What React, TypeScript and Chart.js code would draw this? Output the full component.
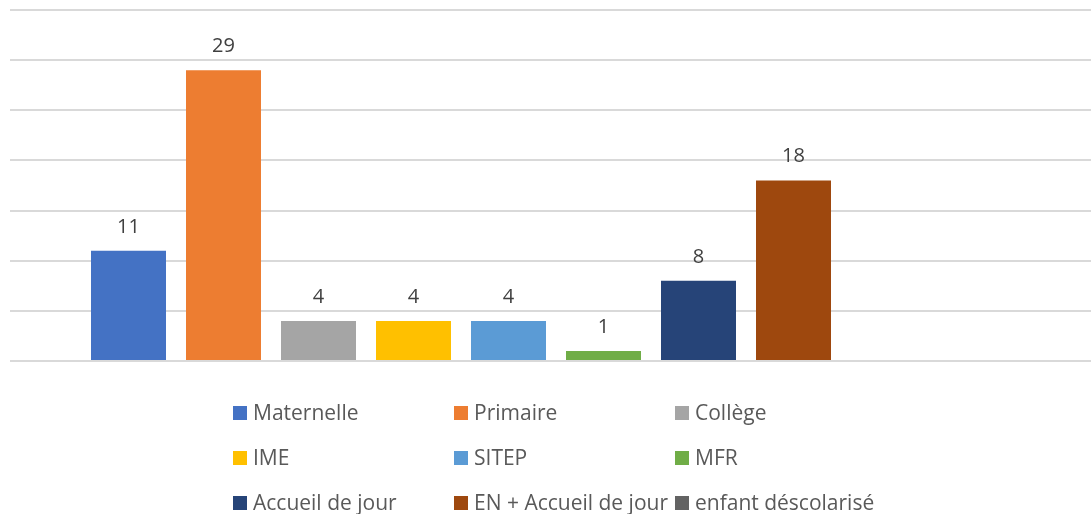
import React, { useEffect, useRef } from "react";
import { Chart, registerables } from "chart.js";

Chart.register(...registerables);

// ---- data ----
const seriesLabels: string[] = [
  "Maternelle",
  "Primaire",
  "Collège",
  "IME",
  "SITEP",
  "MFR",
  "Accueil de jour",
  "EN + Accueil de jour",
  "enfant déscolarisé",
];
const seriesValues: (number | null)[] = [11, 29, 4, 4, 4, 1, 8, 18, null];
const seriesColors: string[] = [
  "#4472C4",
  "#ED7D31",
  "#A5A5A5",
  "#FFC000",
  "#5B9BD5",
  "#70AD47",
  "#264478",
  "#9E480E",
  "#636363",
];
const yMin = 0;
const yMax = 35;
const yStep = 5;

// ---- layout / style ----
const W = 1091;
const H = 514;
const FONT = "'Open Sans', Lato, sans-serif";
const legendColX = [233, 454, 675];
const legendRowTop = [406, 451, 496];
const legendBox = 14;

const valueLabelPlugin = {
  id: "valueLabels",
  afterDatasetsDraw(chart: any) {
    const ctx = chart.ctx;
    ctx.save();
    ctx.font = `20px ${FONT}`;
    ctx.fillStyle = "#404040";
    ctx.textAlign = "center";
    ctx.textBaseline = "alphabetic";
    chart.data.datasets.forEach((ds: any, di: number) => {
      const meta = chart.getDatasetMeta(di);
      meta.data.forEach((el: any, i: number) => {
        const v = ds.data[i]?.y;
        if (v === null || v === undefined) return;
        ctx.fillText(String(v), el.x, el.y - 18);
      });
    });
    ctx.restore();
  },
};

const gridLegendPlugin = {
  id: "gridLegend",
  afterDraw(chart: any) {
    const ctx = chart.ctx;
    ctx.save();
    ctx.font = `21px ${FONT}`;
    ctx.textAlign = "left";
    ctx.textBaseline = "alphabetic";
    chart.data.datasets.forEach((ds: any, di: number) => {
      const col = di % 3;
      const row = Math.floor(di / 3);
      const x = legendColX[col];
      const y = legendRowTop[row];
      ctx.fillStyle = ds.backgroundColor;
      ctx.fillRect(x, y, legendBox, legendBox);
      ctx.fillStyle = "#595959";
      ctx.fillText(ds.label, x + legendBox + 6, y + legendBox);
    });
    ctx.restore();
  },
};

export default function App() {
  const ref = useRef<HTMLCanvasElement | null>(null);

  useEffect(() => {
    if (!ref.current) return;
    const groupCenterFrac = 0.46115;
    const chart = new Chart(ref.current, {
      type: "bar",
      data: {
        datasets: seriesLabels.map((label, i) => ({
          label,
          data: [{ x: 0, y: seriesValues[i] }],
          backgroundColor: seriesColors[i],
          borderWidth: 0,
          categoryPercentage: 855 / 1081,
          barPercentage: 75 / 95,
        })) as any,
      },
      options: {
        responsive: false,
        animation: false,
        devicePixelRatio: 1,
        layout: { padding: { left: 10, right: 0, top: 10, bottom: 153 } },
        plugins: {
          legend: { display: false },
          tooltip: { enabled: false },
          title: { display: false },
        },
        scales: {
          x: {
            type: "linear",
            display: false,
            offset: false,
            min: -groupCenterFrac,
            max: 1 - groupCenterFrac,
            afterBuildTicks: (axis: any) => {
              axis.ticks = [{ value: axis.min }, { value: axis.max }];
            },
            grid: { display: false },
          },
          y: {
            min: yMin,
            max: yMax,
            ticks: { display: false, stepSize: yStep },
            border: { display: false },
            grid: {
              color: "#d9d9d9",
              lineWidth: 2,
              drawTicks: false,
            },
            afterFit: (scale: any) => {
              scale.width = 0;
            },
          },
        },
      } as any,
      plugins: [valueLabelPlugin, gridLegendPlugin],
    });
    return () => chart.destroy();
  }, []);

  return (
    <div
      style={{
        position: "fixed",
        left: 0,
        top: 0,
        width: W,
        height: H,
        background: "#ffffff",
      }}
    >
      <canvas ref={ref} width={W} height={H} style={{ display: "block", width: W, height: H }} />
    </div>
  );
}
